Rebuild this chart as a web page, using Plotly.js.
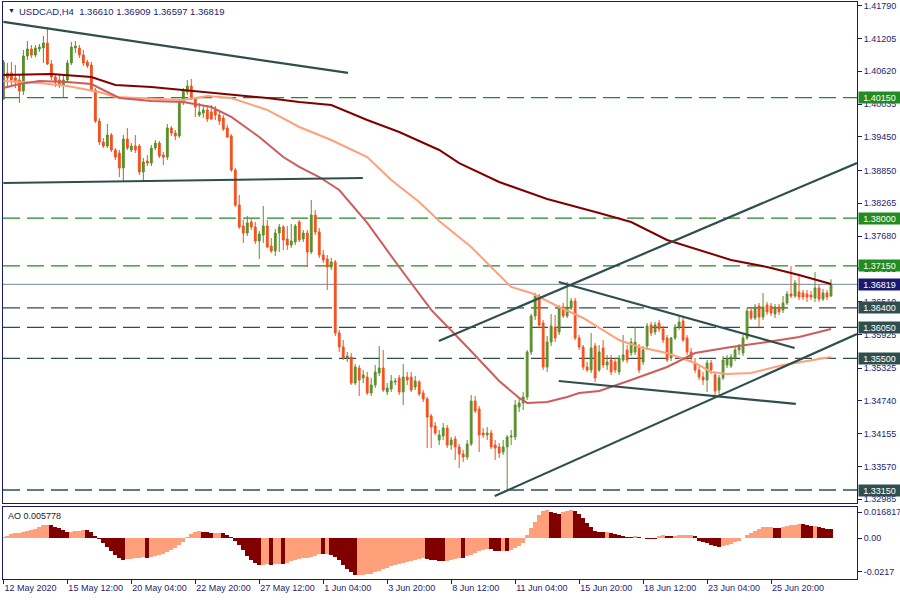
<!DOCTYPE html>
<html><head><meta charset="utf-8">
<script src="https://cdn.plot.ly/plotly-3.0.1.min.js"></script>
<style>html,body{margin:0;padding:0;background:#fff;}#chart{width:900px;height:600px;}</style>
</head><body><div id="chart"></div>
<script>
// ---- Data (USDCAD H4) ----
const openP = [
1.40126,1.40590,1.40590,1.40500,1.40465,1.40269,1.40893,1.41018,1.40911,1.41018,
1.41036,1.41125,1.40750,1.40518,1.40465,1.40376,1.40465,1.40768,1.41036,1.41036,
1.40911,1.40786,1.40732,1.40286,1.39733,1.39358,1.39287,1.39483,1.39216,1.39162,
1.38894,1.39412,1.39216,1.39287,1.39287,1.38823,1.39019,1.38983,1.39251,1.39340,
1.39126,1.39090,1.39608,1.39519,1.39466,1.40054,1.40251,1.40358,1.40126,1.39840,
1.39876,1.39930,1.39894,1.39930,1.39840,1.39787,1.39608,1.39466,1.38859,1.38235,
1.37860,1.37735,1.37932,1.37842,1.37592,1.37699,1.37860,1.37503,1.37414,1.37735,
1.37842,1.37628,1.37521,1.37575,1.37932,1.37628,1.37735,1.37396,1.38056,1.37753,
1.37343,1.37271,1.37129,1.37218,1.35952,1.35701,1.35505,1.35523,1.35059,1.35327,
1.35149,1.35166,1.34881,1.35024,1.35238,1.35327,1.34899,1.34952,1.35077,1.35149,
1.34899,1.35166,1.35166,1.34988,1.35077,1.34881,1.34774,1.34471,1.34292,1.34042,
1.34114,1.34256,1.33953,1.34060,1.33918,1.33793,1.33739,1.33971,1.34738,1.34596,
1.34167,1.34132,1.34167,1.33953,1.33918,1.33828,1.33918,1.34096,1.34096,1.34631,
1.34703,1.34810,1.35612,1.36255,1.36611,1.36129,1.35345,1.35790,1.36058,1.35969,
1.36415,1.36255,1.36397,1.36522,1.35862,1.35701,1.35345,1.35291,1.35719,1.35291,
1.35684,1.35380,1.35470,1.35434,1.35256,1.35470,1.35648,1.35595,1.35612,1.35701,
1.35434,1.35719,1.36094,1.35969,1.36129,1.36023,1.35862,1.35505,1.35862,1.36058,
1.36165,1.35862,1.35612,1.35416,1.35291,1.35166,1.35113,1.35416,1.35202,1.34934,
1.35149,1.35380,1.35363,1.35505,1.35648,1.35595,1.35862,1.36344,1.36219,1.36433,
1.36237,1.36451,1.36433,1.36290,1.36415,1.36362,1.36486,1.36647,1.36611,1.36683,
1.36665,1.36647,1.36629,1.36576,1.36754,1.36558,1.36665,1.36610];
const highP = [
1.40822,1.40768,1.40786,1.40732,1.40554,1.41000,1.41161,1.41089,1.41089,1.41107,
1.41250,1.41410,1.40822,1.40572,1.40554,1.40536,1.40822,1.41143,1.41161,1.41089,
1.41000,1.40822,1.40786,1.40322,1.39787,1.39430,1.39680,1.39519,1.39251,1.39216,
1.39483,1.39608,1.39340,1.39483,1.39323,1.39073,1.39126,1.39305,1.39394,1.39376,
1.39180,1.39680,1.39644,1.39573,1.40108,1.40322,1.40465,1.40483,1.40161,1.40054,
1.40019,1.40019,1.40019,1.40001,1.39894,1.39840,1.39662,1.39501,1.38894,1.38413,
1.37967,1.38039,1.38003,1.37932,1.37771,1.38217,1.37967,1.37646,1.37807,1.37896,
1.37878,1.37860,1.37896,1.37896,1.37967,1.37789,1.37789,1.38324,1.38146,1.37825,
1.37432,1.37343,1.37289,1.37254,1.36005,1.35826,1.35612,1.35595,1.35398,1.35380,
1.35291,1.35256,1.35149,1.35380,1.35719,1.35648,1.35059,1.35202,1.35149,1.35202,
1.35398,1.35256,1.35256,1.35184,1.35113,1.34934,1.34810,1.34506,1.34364,1.34221,
1.34346,1.34310,1.34096,1.34114,1.33971,1.33864,1.34042,1.34845,1.34827,1.34649,
1.34256,1.34274,1.34221,1.34042,1.33989,1.34042,1.34132,1.34221,1.34756,1.34792,
1.34899,1.35648,1.36290,1.36665,1.36647,1.36183,1.35898,1.36290,1.36272,1.36451,
1.36486,1.36861,1.36576,1.36576,1.35915,1.35737,1.35434,1.35952,1.35773,1.35737,
1.35826,1.35559,1.35559,1.35505,1.35559,1.35915,1.35737,1.35862,1.36058,1.35755,
1.35719,1.36129,1.36147,1.36147,1.36183,1.36076,1.35915,1.35880,1.36112,1.36255,
1.36219,1.35915,1.35684,1.35505,1.35363,1.35256,1.35470,1.35470,1.35256,1.35202,
1.35541,1.35559,1.35577,1.35701,1.35755,1.35915,1.36397,1.36397,1.36468,1.36486,
1.36665,1.36504,1.36486,1.36468,1.36468,1.36611,1.36701,1.37147,1.36897,1.36968,
1.36718,1.36718,1.36701,1.37040,1.36808,1.36736,1.36718,1.36909];
const lowP = [
1.40108,1.40340,1.40376,1.40322,1.40054,1.40197,1.40822,1.40857,1.40875,1.40964,
1.40768,1.40732,1.40465,1.40340,1.40322,1.40161,1.40429,1.40732,1.40946,1.40857,
1.40714,1.40679,1.40251,1.39697,1.39305,1.39251,1.39251,1.39180,1.39038,1.38734,
1.38645,1.39216,1.39180,1.39162,1.38770,1.38645,1.38930,1.38930,1.39216,1.39073,
1.38948,1.39038,1.39466,1.39394,1.39430,1.40019,1.40197,1.40108,1.39805,1.39805,
1.39787,1.39715,1.39751,1.39751,1.39662,1.39555,1.39430,1.38823,1.38199,1.37807,
1.37557,1.37682,1.37789,1.37539,1.37271,1.37557,1.37468,1.37378,1.37325,1.37396,
1.37432,1.37432,1.37468,1.37521,1.37575,1.37575,1.37129,1.37361,1.37700,1.37289,
1.37200,1.36718,1.37075,1.35898,1.35612,1.35470,1.35434,1.35024,1.35024,1.34827,
1.35059,1.34845,1.34827,1.34970,1.35184,1.34899,1.34845,1.34899,1.35024,1.34845,
1.34667,1.35024,1.34899,1.34934,1.34827,1.34720,1.33900,1.33900,1.34132,1.33953,
1.34042,1.33900,1.33864,1.33686,1.33543,1.33650,1.33686,1.33936,1.34524,1.33828,
1.34078,1.34042,1.33882,1.33686,1.33721,1.33775,1.33150,1.33953,1.34042,1.34542,
1.34578,1.34756,1.35559,1.36183,1.36040,1.35291,1.35256,1.35719,1.35790,1.35915,
1.36219,1.36219,1.36362,1.35826,1.35648,1.35291,1.35256,1.35238,1.35077,1.35256,
1.35327,1.35291,1.35202,1.35238,1.35202,1.35434,1.35416,1.35541,1.35559,1.35238,
1.35380,1.35648,1.35898,1.35915,1.35969,1.35773,1.35434,1.35452,1.35826,1.36005,
1.35790,1.35559,1.35434,1.35238,1.35113,1.35024,1.34899,1.35220,1.34827,1.34827,
1.35113,1.35327,1.35327,1.35452,1.35559,1.35541,1.35826,1.36183,1.36183,1.36058,
1.36183,1.36272,1.36255,1.36219,1.36272,1.36308,1.36451,1.36576,1.36576,1.36540,
1.36540,1.36504,1.36540,1.36504,1.36504,1.36522,1.36540,1.36597];
const closeP = [
1.40786,1.40500,1.40465,1.40429,1.40269,1.40893,1.41018,1.40911,1.41036,1.41054,
1.41125,1.40750,1.40518,1.40429,1.40376,1.40465,1.40768,1.41054,1.41071,1.40911,
1.40768,1.40714,1.40286,1.39733,1.39358,1.39287,1.39483,1.39216,1.39090,1.38894,
1.39412,1.39251,1.39287,1.39216,1.38823,1.39001,1.38983,1.39251,1.39340,1.39108,
1.39090,1.39608,1.39519,1.39466,1.40054,1.40286,1.40358,1.40126,1.39983,1.39894,
1.39930,1.39769,1.39769,1.39840,1.39733,1.39590,1.39448,1.38859,1.38235,1.37842,
1.37735,1.37914,1.37842,1.37592,1.37717,1.37860,1.37486,1.37414,1.37735,1.37842,
1.37610,1.37521,1.37592,1.37860,1.37610,1.37735,1.37396,1.38056,1.37753,1.37343,
1.37254,1.37129,1.37218,1.35952,1.35701,1.35505,1.35541,1.35059,1.35345,1.35113,
1.35202,1.34881,1.35024,1.35256,1.35327,1.34934,1.34970,1.35095,1.35095,1.34899,
1.35166,1.35113,1.34934,1.35095,1.34863,1.34774,1.34453,1.34274,1.34167,1.34132,
1.34256,1.33953,1.34042,1.33918,1.33793,1.33739,1.33971,1.34738,1.34560,1.34132,
1.34132,1.34167,1.33918,1.33900,1.33810,1.33918,1.34096,1.34114,1.34667,1.34703,
1.34810,1.35612,1.36255,1.36611,1.36094,1.35345,1.35790,1.36076,1.35862,1.36397,
1.36255,1.36415,1.36522,1.35862,1.35701,1.35345,1.35291,1.35684,1.35149,1.35612,
1.35380,1.35434,1.35256,1.35291,1.35505,1.35559,1.35470,1.35790,1.35790,1.35291,
1.35648,1.36076,1.35952,1.36094,1.36023,1.35826,1.35470,1.35862,1.36058,1.36147,
1.35826,1.35612,1.35505,1.35291,1.35166,1.35113,1.35416,1.35291,1.34917,1.35149,
1.35470,1.35488,1.35523,1.35648,1.35701,1.35862,1.36344,1.36219,1.36415,1.36237,
1.36415,1.36326,1.36308,1.36415,1.36326,1.36486,1.36647,1.36611,1.36843,1.36593,
1.36593,1.36593,1.36593,1.36754,1.36558,1.36665,1.36593,1.36819];

// Awesome Oscillator values (one per bar)
const aoValues = [
0.0006,0.0015,0.0026,0.0032,0.0036,0.0040,0.0045,0.0051,0.0060,0.0075,
0.0087,0.0089,0.0083,0.0075,0.0066,0.0053,0.0040,0.0043,0.0047,0.0049,
0.0055,0.0051,0.0040,0.0017,-0.0006,-0.0028,-0.0053,-0.0079,-0.0107,-0.0128,
-0.0138,-0.0136,-0.0134,-0.0130,-0.0126,-0.0121,-0.0124,-0.0121,-0.0117,-0.0109,
-0.0100,-0.0089,-0.0075,-0.0060,-0.0043,-0.0026,0.0011,0.0028,0.0040,0.0047,
0.0040,0.0038,0.0032,0.0034,0.0036,0.0032,0.0023,0.0011,-0.0015,-0.0043,
-0.0075,-0.0113,-0.0138,-0.0160,-0.0173,-0.0171,-0.0168,-0.0170,-0.0166,-0.0163,
-0.0165,-0.0157,-0.0149,-0.0143,-0.0134,-0.0130,-0.0126,-0.0121,-0.0113,-0.0102,
-0.0104,-0.0100,-0.0107,-0.0121,-0.0143,-0.0170,-0.0198,-0.0219,-0.0239,-0.0237,
-0.0235,-0.0232,-0.0228,-0.0219,-0.0209,-0.0198,-0.0190,-0.0181,-0.0173,-0.0166,
-0.0160,-0.0151,-0.0145,-0.0138,-0.0132,-0.0126,-0.0134,-0.0138,-0.0141,-0.0145,
-0.0149,-0.0147,-0.0140,-0.0131,-0.0127,-0.0129,-0.0117,-0.0106,-0.0096,-0.0085,
-0.0077,-0.0068,-0.0072,-0.0079,-0.0083,-0.0080,-0.0083,-0.0075,-0.0062,-0.0047,
-0.0028,0.0021,0.0064,0.0107,0.0149,0.0177,0.0181,0.0170,0.0164,0.0156,
0.0170,0.0177,0.0181,0.0175,0.0160,0.0134,0.0100,0.0070,0.0049,0.0040,
0.0038,0.0040,0.0034,0.0028,0.0019,0.0015,0.0011,0.0009,0.0015,0.0006,
0.0002,-0.0002,-0.0003,-0.0004,0.0015,0.0019,0.0015,0.0013,0.0017,0.0019,
0.0021,0.0023,0.0024,0.0015,-0.0015,-0.0026,-0.0032,-0.0040,-0.0047,-0.0053,
-0.0047,-0.0043,-0.0036,-0.0026,-0.0015,0.0001,0.0021,0.0036,0.0049,0.0062,
0.0070,0.0075,0.0076,0.0068,0.0066,0.0075,0.0079,0.0083,0.0085,0.0091,
0.0090,0.0087,0.0079,0.0081,0.0072,0.0068,0.0063,0.005778];

// Moving averages read at sample bars
const maSlowIdx = [0,12,22,28,37,45,57,66,74,82,91,99,109,114,124,136,149,157,166,174,182,191,199,207];
const maSlow = [1.40554,1.40572,1.40518,1.40376,1.40340,1.40286,1.40215,1.40144,1.40072,1.40019,1.39751,1.39537,1.39216,1.38983,1.38645,1.38342,1.38092,1.37931,1.37610,1.37432,1.37254,1.37129,1.36986,1.36826];
const maMidIdx = [0,4,9,16,24,28,37,45,51,57,66,74,82,91,97,104,109,117,122,127,132,139,145,149,154,159,166,173,177,181,187,195,207];
const maMid = [1.40447,1.40429,1.40411,1.40358,1.40251,1.40161,1.40126,1.40108,1.40179,1.40144,1.39930,1.39626,1.39394,1.39091,1.38681,1.38288,1.37949,1.37486,1.37129,1.36772,1.36665,1.36415,1.36219,1.36040,1.35826,1.35701,1.35594,1.35416,1.35256,1.35220,1.35238,1.35381,1.35523];
const maFastIdx = [0,4,9,16,22,27,29,37,45,52,57,64,70,74,79,84,91,99,107,116,124,129,131,136,141,144,149,157,166,173,182,191,199,207];
const maFast = [1.40322,1.40393,1.40447,1.40429,1.40393,1.40215,1.40144,1.40090,1.40072,1.39983,1.39805,1.39448,1.39091,1.38913,1.38734,1.38502,1.37914,1.37129,1.36362,1.35701,1.35095,1.34792,1.34703,1.34720,1.34810,1.34881,1.34917,1.35113,1.35345,1.35594,1.35701,1.35790,1.35880,1.36023];

// Trend lines: start/end bar and price
const trendStartIdx = [0, 0, 108.9, 122.9, 138.9, 138.9];
const trendStartPrice = [1.41500, 1.38627, 1.35809, 1.33043, 1.36861, 1.35095];
const trendEndIdx = [86.2, 89.9, 213.5, 213.5, 197.9, 198.2];
const trendEndPrice = [1.40590, 1.38716, 1.38984, 1.35933, 1.35684, 1.34685];

// Horizontal levels
const greenLevels = [1.40150, 1.38000, 1.37150];
const slateLevels = [1.36400, 1.36050, 1.35500, 1.33150];
const bidPrice = 1.36819;

// Axis labels
const priceTicks = [1.41790,1.41205,1.40620,1.40035,1.39450,1.38850,1.38265,1.37680,1.37095,1.36510,1.35925,1.35325,1.34740,1.34155,1.33570,1.32985];
const priceTickText = ['1.41790','1.41205','1.40620','1.40035','1.39450','1.38850','1.38265','1.37680','1.37095','1.36510','1.35925','1.35325','1.34740','1.34155','1.33570','1.32985'];
const timeTickIdx = [0,16,32,48,64,80,96,112,128,144,160,176,192];
const timeTickText = ['12 May 2020','15 May 12:00','20 May 04:00','22 May 20:00','27 May 12:00','1 Jun 04:00','3 Jun 20:00','8 Jun 12:00','11 Jun 04:00','15 Jun 20:00','18 Jun 12:00','23 Jun 04:00','25 Jun 20:00'];
const aoTicks = [0.016817, 0, -0.0217];
const aoTickText = ['0.016817','0.00','-0.0217'];
const headerText = 'USDCAD,H4\u00a0\u00a01.36610\u00a01.36909\u00a01.36597\u00a01.36819';
const aoLabel = 'AO 0.005778';

// ---- Styling ----
const NAVY = '#191970', TXT = '#1d1d72';
const UP = '#5b8f2b', DOWN = '#f4511e';
const SLATE = '#2f4f4f', GREEN = '#228b22';
const FONT = 'Liberation Sans, Arial, sans-serif';
const barIdx = openP.map((_, i) => i);
const aoColors = aoValues.map((v, i) => (i === 0 || v > aoValues[i - 1]) ? '#ffa07a' : '#800000');

const traces = [
  {type:'candlestick', x:barIdx, open:openP, high:highP, low:lowP, close:closeP, xaxis:'x', yaxis:'y',
   increasing:{line:{color:UP,width:1}, fillcolor:UP}, decreasing:{line:{color:DOWN,width:1}, fillcolor:DOWN},
   whiskerwidth:0, hoverinfo:'skip'},
  {type:'scatter', mode:'lines', x:maSlowIdx, y:maSlow, line:{color:'#800000', width:2}, xaxis:'x', yaxis:'y', hoverinfo:'skip'},
  {type:'scatter', mode:'lines', x:maMidIdx, y:maMid, line:{color:'#ffa07a', width:2}, xaxis:'x', yaxis:'y', hoverinfo:'skip'},
  {type:'scatter', mode:'lines', x:maFastIdx, y:maFast, line:{color:'#cd5c5c', width:2}, xaxis:'x', yaxis:'y', hoverinfo:'skip'},
  {type:'bar', x:barIdx, y:aoValues, xaxis:'x2', yaxis:'y2', width:1, marker:{color:aoColors, line:{width:0}}, hoverinfo:'skip'}
];

const shapes = [];
greenLevels.forEach(p => shapes.push({type:'line', xref:'paper', x0:0, x1:1, yref:'y', y0:p, y1:p, layer:'below', line:{color:GREEN, width:1.3, dash:'17px,7px'}}));
slateLevels.forEach(p => shapes.push({type:'line', xref:'paper', x0:0, x1:1, yref:'y', y0:p, y1:p, layer:'below', line:{color:SLATE, width:1.3, dash:'17px,7px'}}));
shapes.push({type:'line', xref:'paper', x0:0, x1:1, yref:'y', y0:bidPrice, y1:bidPrice, layer:'below', line:{color:'#778899', width:1}});
trendStartIdx.forEach((s, k) => shapes.push({type:'line', xref:'x', yref:'y', x0:s, y0:trendStartPrice[k], x1:trendEndIdx[k], y1:trendEndPrice[k], line:{color:SLATE, width:2.2}}));

const tag = (p, txt, bg) => ({xref:'paper', x:1, xanchor:'left', xshift:1, yref:'y', y:p, yanchor:'middle',
  text:txt, showarrow:false, bgcolor:bg, width:41, height:11, align:'center', borderpad:0,
  font:{family:FONT, size:9, color:'#ffffff'}});
const annotations = [];
greenLevels.forEach(p => annotations.push(tag(p, p.toFixed(5), GREEN)));
slateLevels.forEach(p => annotations.push(tag(p, p.toFixed(5), SLATE)));
annotations.push(tag(bidPrice, bidPrice.toFixed(5), NAVY));
annotations.push({xref:'paper', yref:'paper', x:0, y:1, xanchor:'left', yanchor:'top', xshift:3, yshift:-3, text:'\u25BC', showarrow:false, font:{family:FONT, size:7, color:NAVY}});
annotations.push({xref:'paper', yref:'paper', x:0, y:1, xanchor:'left', yanchor:'top', xshift:14, yshift:-2, text:headerText, showarrow:false, font:{family:FONT, size:9.5, color:TXT}});
annotations.push({xref:'paper', yref:'paper', x:0, y:0.1248, xanchor:'left', yanchor:'top', xshift:3, yshift:-2, text:aoLabel, showarrow:false, font:{family:FONT, size:9, color:'#222'}});

const axisBase = {showline:true, mirror:true, linecolor:NAVY, linewidth:1, showgrid:false, zeroline:false, fixedrange:true};
const layout = {
  width:900, height:600, margin:{l:3, r:43, t:2, b:21},
  paper_bgcolor:'#ffffff', plot_bgcolor:'#ffffff', showlegend:false, hovermode:false, dragmode:false,
  boxgap:0.35, bargap:0,
  font:{family:FONT, size:9, color:TXT},
  xaxis:Object.assign({}, axisBase, {domain:[0,1], anchor:'y', range:[-0.1,213.5], showticklabels:false, ticks:'', rangeslider:{visible:false}}),
  xaxis2:Object.assign({}, axisBase, {domain:[0,1], anchor:'y2', range:[-0.1,213.5], ticks:'outside', ticklen:4, tickcolor:NAVY,
    tickmode:'array', tickvals:timeTickIdx, ticktext:timeTickText, ticklabelposition:'outside right', tickfont:{family:FONT, size:9, color:TXT}}),
  yaxis:Object.assign({}, axisBase, {domain:[0.1317,1], anchor:'x', side:'right', range:[1.32918,1.41856], ticks:'outside', ticklen:4, tickcolor:NAVY,
    tickmode:'array', tickvals:priceTicks, ticktext:priceTickText, tickfont:{family:FONT, size:9, color:TXT}}),
  yaxis2:Object.assign({}, axisBase, {domain:[0,0.1248], anchor:'x2', side:'right', range:[-0.02625,0.0202], ticks:'outside', ticklen:4, tickcolor:NAVY,
    tickmode:'array', tickvals:aoTicks, ticktext:aoTickText, tickfont:{family:FONT, size:9, color:TXT}}),
  shapes:shapes, annotations:annotations
};
Plotly.newPlot('chart', traces, layout, {staticPlot:true, displayModeBar:false});
</script></body></html>
